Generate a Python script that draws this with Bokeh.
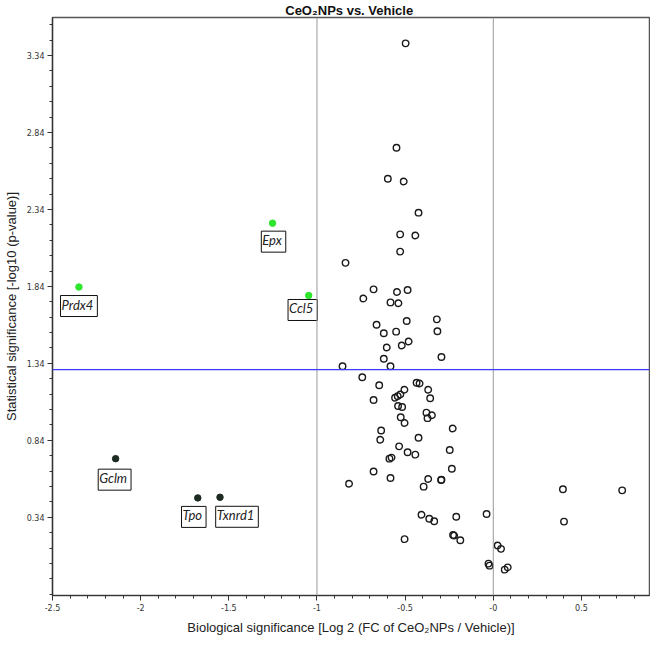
from bokeh.plotting import figure
from bokeh.models import Span, FixedTicker, ColumnDataSource
from bokeh.core.properties import value
from bokeh.embed import file_html
from bokeh.resources import INLINE

# ---------------- data ----------------
other_x = [-0.497, -0.549, -0.598, -0.508, -0.424,
           -0.528, -0.442, -0.528, -0.838, -0.679, -0.546, -0.486, -0.737, -0.583, -0.538,
           -0.320, -0.491, -0.662, -0.317, -0.621, -0.551, -0.480, -0.519, -0.604, -0.294,
           -0.621, -0.855, -0.583, -0.743, -0.647, -0.435, -0.418, -0.504, -0.369,
           -0.679, -0.557, -0.542, -0.527, -0.358, -0.540, -0.517, -0.379, -0.348, -0.373,
           -0.525, -0.503, -0.230, -0.636, -0.641, -0.424, -0.534, -0.486, -0.442, -0.247,
           -0.589, -0.577, -0.235, -0.679, -0.583, -0.369, -0.296, -0.294, -0.818, -0.395,
           -0.407, -0.363, -0.335, -0.210, -0.038, -0.228, -0.222, -0.187, -0.503,
           0.025, 0.044, -0.027, -0.021, 0.065, 0.082,
           0.395, 0.731, 0.401]
other_y = [3.419, 2.741, 2.539, 2.522, 2.319,
           2.178, 2.171, 2.066, 1.993, 1.821, 1.804, 1.817, 1.761, 1.736, 1.731,
           1.626, 1.615, 1.591, 1.549, 1.536, 1.546, 1.482, 1.456, 1.443, 1.381,
           1.370, 1.321, 1.321, 1.250, 1.198, 1.214, 1.209, 1.169, 1.169,
           1.102, 1.117, 1.127, 1.138, 1.113, 1.063, 1.057, 1.020, 1.003, 0.984,
           0.990, 0.953, 0.917, 0.904, 0.844, 0.857, 0.801, 0.763, 0.747, 0.777,
           0.721, 0.728, 0.655, 0.638, 0.595, 0.589, 0.582, 0.584, 0.558, 0.539,
           0.357, 0.331, 0.314, 0.344, 0.361, 0.225, 0.221, 0.191, 0.198,
           0.157, 0.135, 0.039, 0.026, 0.000, 0.015,
           0.522, 0.515, 0.312]

up_genes = ["Prdx4", "Epx", "Ccl5"]
up_x = [-2.35, -1.252, -1.047]
up_y = [1.836, 2.251, 1.781]

down_genes = ["Gclm", "Tpo", "Txnrd1"]
down_x = [-2.142, -1.676, -1.550]
down_y = [0.721, 0.466, 0.470]

x_ticks = [-2.5, -2.0, -1.5, -1.0, -0.5, 0.0, 0.5]
x_tick_labels = ["-2.5", "-2", "-1.5", "-1", "-0.5", "-0", "0.5"]
y_ticks = [0.34, 0.84, 1.34, 1.84, 2.34, 2.84, 3.34]
y_tick_labels = ["0.34", "0.84", "1.34", "1.84", "2.34", "2.84", "3.34"]

fc_thresholds = [-1.0, 0.0]
p_threshold = 1.30

# label pixel offsets (style, not data); positive dy = downward
label_dx = {"Prdx4": 0, "Epx": 1, "Ccl5": -6, "Gclm": -1, "Tpo": -4, "Txnrd1": 17}
label_dy = {"Prdx4": 19, "Epx": 18.5, "Ccl5": 14.5, "Gclm": 21, "Tpo": 19, "Txnrd1": 19.5}

# ---------------- figure ----------------
p = figure(width=650, height=639, x_range=(-2.5, 0.886), y_range=(-0.168, 3.587),
           output_backend="svg", toolbar_location=None,
           min_border_left=47, min_border_right=1, min_border_top=12, min_border_bottom=44,
           title="CeO\u2082NPs vs.  Vehicle")
p.title.align = "center"
p.title.text_font = "Liberation Sans"
p.title.text_font_size = "13px"
p.title.text_font_style = "bold"
p.title.text_color = "#111111"
p.title.standoff = 0
p.title.offset = 9

p.xgrid.visible = False
p.ygrid.visible = False
p.outline_line_color = "#555555"
p.outline_line_width = 1.5
p.background_fill_color = "white"
p.border_fill_color = "white"

minor_x = [round(-2.5 + 0.1 * i, 2) for i in range(0, 34)]
minor_y = [round(-0.16 + 0.1 * i, 2) for i in range(0, 38)]
p.xaxis.ticker = FixedTicker(ticks=x_ticks, minor_ticks=minor_x)
p.yaxis.ticker = FixedTicker(ticks=y_ticks, minor_ticks=minor_y)
p.xaxis.major_label_overrides = {t: l for t, l in zip(x_ticks, x_tick_labels)}
p.yaxis.major_label_overrides = {t: l for t, l in zip(y_ticks, y_tick_labels)}

for ax in (p.xaxis, p.yaxis):
    ax.axis_line_color = "#333333"
    ax.axis_line_width = 1.2
    ax.major_tick_line_color = "#333333"
    ax.minor_tick_line_color = "#333333"
    ax.major_tick_out = 5
    ax.major_tick_in = 0
    ax.minor_tick_out = 3
    ax.minor_tick_in = 0
    ax.major_label_text_font = "DejaVu Sans"
    ax.major_label_text_font_size = "8px"
    ax.major_label_text_color = "#333333"
    ax.major_label_standoff = 3
    ax.axis_label_text_font = "Liberation Sans"
    ax.axis_label_text_font_size = "13px"
    ax.axis_label_text_font_style = "normal"
    ax.axis_label_text_color = "#222222"
p.xaxis.axis_label_standoff = 6
p.yaxis.axis_label_standoff = 5

p.xaxis.axis_label = "Biological significance [Log 2 (FC of CeO\u2082NPs / Vehicle)]"
p.yaxis.axis_label = "Statistical significance [-log10 (p-value)]"

for xv in fc_thresholds:
    p.add_layout(Span(location=xv, dimension="height", line_color="#9a9a9a", line_width=1))
p.add_layout(Span(location=p_threshold, dimension="width", line_color="#3a3aff", line_width=1.2))

p.scatter(other_x, other_y, size=6.5, marker="circle", line_color="#1a1a1a",
          line_width=1.4, fill_alpha=0)

p.scatter(up_x, up_y, size=6.5, marker="circle", fill_color="#2ee62e", line_color="#2ee62e")
p.scatter(down_x, down_y, size=6.5, marker="circle", fill_color="#1d2b22", line_color="#1d2b22")

genes = up_genes + down_genes
src = ColumnDataSource(dict(
    x=up_x + down_x, y=up_y + down_y, text=genes,
    dx=[label_dx[g] for g in genes], dy=[label_dy[g] for g in genes]))
p.text(x="x", y="y", text="text", x_offset="dx", y_offset="dy", source=src,
       text_font=value("Lato"), text_font_style="italic", text_font_size="13px",
       text_color="#222222", text_align="center", text_baseline="middle",
       background_fill_color="white", border_line_color="#111111", border_line_width=1,
       padding=[1, 4, 1, 4])

open("out.html", "w").write(file_html(p, INLINE))
